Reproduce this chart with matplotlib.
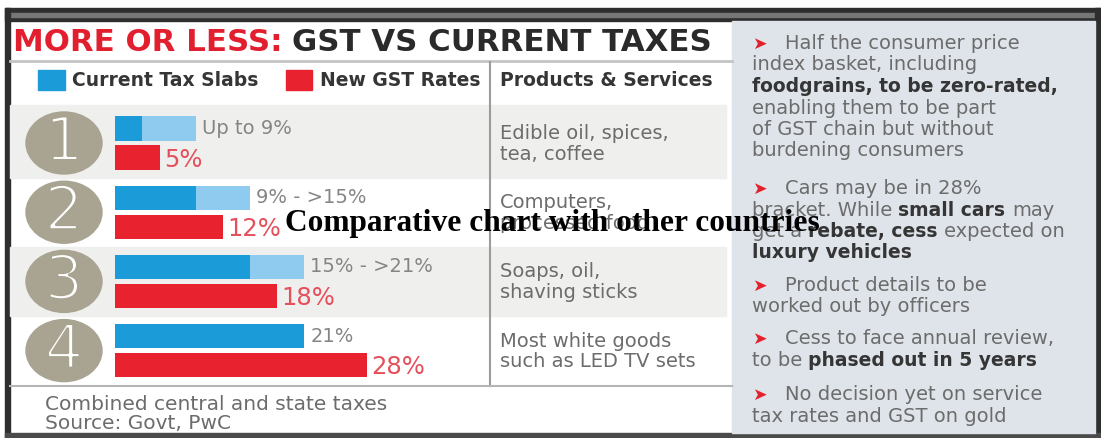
import matplotlib.pyplot as plt
import matplotlib.patheffects as pe
from matplotlib.patches import Rectangle, Ellipse

# Current tax slab (lower / upper bound, %) and proposed GST rate per group
slab_low = [3, 9, 15, 21]
slab_high = [9, 15, 21, 21]
slab_labels = ["Up to 9%", "9% - >15%", "15% - >21%", "21%"]
gst_rates = [5, 12, 18, 28]
group_numbers = ["1", "2", "3", "4"]
products = [
    ["Edible oil, spices,", "tea, coffee"],
    ["Computers,", "processed food"],
    ["Soaps, oil,", "shaving sticks"],
    ["Most white goods", "such as LED TV sets"],
]

# side notes: paragraphs -> lines -> (text, bold) runs
notes = [
    [[("Half the consumer price", False)],
     [("index basket, including", False)],
     [("foodgrains, to be zero-rated,", True)],
     [("enabling them to be part", False)],
     [("of GST chain but without", False)],
     [("burdening consumers", False)]],
    [[("Cars may be in 28%", False)],
     [("bracket. While", False), ("small cars", True), ("may", False)],
     [("get a", False), ("rebate, cess", True), ("expected on", False)],
     [("luxury vehicles", True)]],
    [[("Product details to be", False)],
     [("worked out by officers", False)]],
    [[("Cess to face annual review,", False)],
     [("to be", False), ("phased out in 5 years", True)]],
    [[("No decision yet on service", False)],
     [("tax rates and GST on gold", False)]],
]
note_starts = [44, 189, 286, 339, 395]

DARK_BLUE = "#1b9bd7"
LIGHT_BLUE = "#8fcbee"
RED = "#e8232f"
RED_TEXT = "#e4505b"
CIRCLE = "#a8a491"
GRAY_TEXT = "#6c6c6c"
DARK_TEXT = "#353535"

W, H = 1101, 438
fig = plt.figure(figsize=(W / 100, H / 100), dpi=100)
fig.patch.set_facecolor("white")
ax = fig.add_axes([0, 0, 1, 1])
ax.set_xlim(0, W)
ax.set_ylim(H, 0)
ax.axis("off")
renderer = fig.canvas.get_renderer()


def text_width(t):
    return t.get_window_extent(renderer).width


def space_width(size, weight="normal"):
    a = ax.text(0, 0, "xx", fontsize=size, fontweight=weight)
    b = ax.text(0, 0, "x x", fontsize=size, fontweight=weight)
    w = text_width(b) - text_width(a)
    a.remove()
    b.remove()
    return w


def draw_runs(x, y, runs, size, bold_size, color, bold_color):
    sp = space_width(size)
    for txt, bold in runs:
        t = ax.text(x, y, txt, fontsize=bold_size if bold else size,
                    va="baseline", ha="left",
                    fontweight="bold" if bold else "normal",
                    color=bold_color if bold else color)
        x += text_width(t) + sp


# frame
ax.add_patch(Rectangle((5, 8), 1096, 13, color="#2e2e2e", zorder=1))
ax.add_patch(Rectangle((10, 13), 1085, 4, color="#767676", zorder=1))
ax.add_patch(Rectangle((5, 8), 5, 430, color="#2e2e2e", zorder=1))
ax.add_patch(Rectangle((1095, 8), 6, 430, color="#2e2e2e", zorder=1))
ax.add_patch(Rectangle((5, 433), 1096, 5, color="#4a4a4a", zorder=1))
ax.add_patch(Rectangle((732, 21), 363, 412, color="#dee4e9", zorder=1))

# title
t = ax.text(13, 51, "MORE OR LESS:", fontsize=22.2, fontweight="bold",
            color="#e21f2e", va="baseline")
ax.text(13 + text_width(t) + 9, 51, "GST VS CURRENT TAXES", fontsize=22.2,
        fontweight="bold", color="#2a2a2a", va="baseline")
ax.plot([10, 732], [61, 61], color="#c4c4c4", lw=2, zorder=2)

# header row with legend
ax.add_patch(Rectangle((38, 70), 27, 20, color=DARK_BLUE, zorder=2))
ax.text(72, 86, "Current Tax Slabs", fontsize=13.5, fontweight="bold",
        color=DARK_TEXT, va="baseline")
ax.add_patch(Rectangle((286, 70), 26, 20, color=RED, zorder=2))
ax.text(320, 86, "New GST Rates", fontsize=13.5, fontweight="bold",
        color=DARK_TEXT, va="baseline")
ax.text(500, 86, "Products & Services", fontsize=13.5, fontweight="bold",
        color=DARK_TEXT, va="baseline")

# table rows
pitch = 69.2
centers = [143 + pitch * i for i in range(len(gst_rates))]
edges = [105] + [c + pitch / 2 for c in centers]
for i, c in enumerate(centers):
    if i % 2 == 0:
        ax.add_patch(Rectangle((10, edges[i]), 716, edges[i + 1] - edges[i],
                               color="#efefed", zorder=1))
    ax.add_patch(Ellipse((64, c), 76, 62, color=CIRCLE, zorder=2))
    ax.text(64, c + 1, group_numbers[i], fontsize=44, color="white",
            ha="center", va="center", zorder=3,
            path_effects=[pe.Stroke(linewidth=2.2, foreground=CIRCLE)])
    for k, line in enumerate(products[i]):
        ax.text(500, c - 4 + 20.5 * k, line, fontsize=14, color=GRAY_TEXT,
                va="baseline")

ax.plot([490, 490], [62, 386], color="#9c9c9c", lw=1.5, zorder=2)
ax.plot([10, 732], [386, 386], color="#b5b5b5", lw=1.5, zorder=2)

# footer
ax.text(45, 410, "Combined central and state taxes", fontsize=14.5,
        color=GRAY_TEXT, va="baseline")
ax.text(45, 429, "Source: Govt, PwC", fontsize=14.5, color=GRAY_TEXT,
        va="baseline")

# bar chart in percent units
x0, px_per_pct, max_pct = 115, 9.0, 40
y_top = centers[0] - pitch / 2
y_bot = centers[-1] + pitch / 2
bax = fig.add_axes([x0 / W, (H - y_bot) / H, max_pct * px_per_pct / W,
                    (y_bot - y_top) / H])
bax.set_xlim(0, max_pct)
bax.set_ylim(len(gst_rates) - 0.5, -0.5)
bax.axis("off")
bax.patch.set_alpha(0)

ypos = list(range(len(gst_rates)))
off, h = 0.21, 0.35
span = [hi - lo for lo, hi in zip(slab_low, slab_high)]
bax.barh([y - off for y in ypos], slab_low, height=h, color=DARK_BLUE)
bax.barh([y - off for y in ypos], span, left=slab_low, height=h, color=LIGHT_BLUE)
bax.barh([y + off for y in ypos], gst_rates, height=h, color=RED)
for y, hi, lab, rate in zip(ypos, slab_high, slab_labels, gst_rates):
    bax.text(hi + 0.7, y - off, lab, fontsize=14, color="#858585", va="center")
    bax.text(rate + 0.5, y + off + 0.03, f"{rate}%", fontsize=17.5,
             color=RED_TEXT, va="center")

# side notes
for start, para in zip(note_starts, notes):
    for k, runs in enumerate(para):
        base = start + 5 + 21.5 * k
        if k == 0:
            ax.text(752, base, "\u27a4", fontsize=12.5, color="#e3202c",
                    va="baseline")
            draw_runs(785, base, runs, 14, 13.5, GRAY_TEXT, DARK_TEXT)
        else:
            draw_runs(752, base, runs, 14, 13.5, GRAY_TEXT, DARK_TEXT)

# caption laid over the graphic
ax.text(285, 231, "Comparative chart with other countries", fontsize=22.6,
        family="Liberation Serif", fontweight="bold", color="black",
        va="baseline", zorder=5)

fig.savefig("out.png", dpi=100)
